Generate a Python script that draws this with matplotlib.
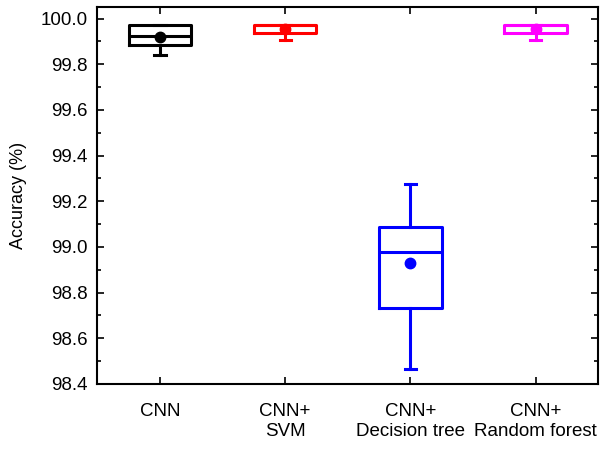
import numpy as np
import matplotlib
matplotlib.use("Agg")
import matplotlib.pyplot as plt
from matplotlib.ticker import MultipleLocator

plt.rcParams['font.family'] = ['Liberation Sans', 'DejaVu Sans']

labels = ["CNN", "CNN+\nSVM", "CNN+\nDecision tree", "CNN+\nRandom forest"]
colors = ["#000000", "#ff0000", "#0000ff", "#ff00ff"]
whislo = [99.84, 99.905, 98.465, 99.905]
q1 = [99.885, 99.935, 98.733, 99.935]
med = [99.925, 99.97, 98.978, 99.97]
q3 = [99.97, 99.97, 99.088, 99.97]
whishi = [99.97, 99.97, 99.276, 99.97]
mean = [99.92, 99.955, 98.93, 99.955]

stats = [dict(whislo=whislo[i], q1=q1[i], med=med[i], q3=q3[i], whishi=whishi[i],
              mean=mean[i], fliers=[]) for i in range(len(labels))]

fig = plt.figure(figsize=(6.08, 4.5), dpi=100)
ax = fig.add_axes([0.16, 0.147, 0.824, 0.837])

pos = np.arange(1, len(labels) + 1)
for i in range(len(labels)):
    c = colors[i]
    lw = 2.2
    ax.bxp([stats[i]], positions=[pos[i]], widths=0.5, showmeans=True, capwidths=0.09,
           boxprops=dict(color=c, linewidth=lw),
           whiskerprops=dict(color=c, linewidth=lw),
           capprops=dict(color=c, linewidth=lw),
           medianprops=dict(color=c, linewidth=lw),
           meanprops=dict(marker='o', markerfacecolor=c, markeredgecolor=c, markersize=7.5))

ax.set_xlim(0.5, 4.5)
ax.set_ylim(98.4, 100.05)
ax.set_xticks(pos)
ax.set_xticklabels(labels, fontsize=13.5)
ax.yaxis.set_major_locator(MultipleLocator(0.2))
ax.yaxis.set_minor_locator(MultipleLocator(0.1))
ax.set_yticklabels([f"{v:.1f}" for v in ax.get_yticks()], fontsize=13.5)
ax.set_ylim(98.4, 100.05)
ax.tick_params(axis='both', which='both', direction='in', top=True, right=True, width=1.2)
ax.tick_params(axis='both', which='major', length=5, pad=7)
ax.tick_params(axis='y', which='minor', length=3)
ax.tick_params(axis='x', pad=14)
for s in ax.spines.values():
    s.set_linewidth(1.5)
ax.set_ylabel("Accuracy (%)", fontsize=13, labelpad=10)

plt.savefig("out.png", dpi=100)
